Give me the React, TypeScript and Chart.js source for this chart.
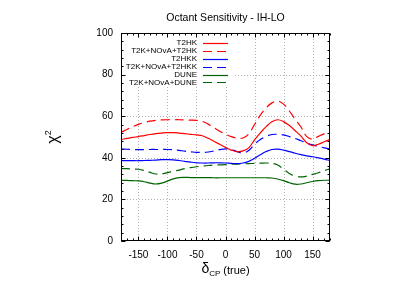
import React, { useEffect, useRef } from "react";
import { Chart, registerables } from "chart.js";

Chart.register(...registerables);

const deltaCP = [
  -180, -170, -160, -150, -140, -130, -120, -110, -100, -90, -80, -70, -60, -50, -40, -30, -20, -10, 0,
  10, 20, 30, 40, 50, 60, 70, 80, 90, 100, 110, 120, 130, 140, 150, 160, 170, 180,
];
const t2hk = [
  48.8, 49.3, 49.8, 50.2, 50.7, 51.2, 51.6, 51.9, 52.1, 52.1, 51.9, 51.6, 51.3, 51.0, 50.6, 49.4, 48.0, 46.5, 45.0,
  43.7, 42.9, 43.3, 44.8, 48.6, 52.0, 55.0, 57.3, 58.3, 57.4, 55.5, 53.0, 50.4, 47.2, 45.8, 46.5, 47.7, 48.8,
];
const t2kNovaT2hk = [
  52.2, 53.6, 54.9, 56.1, 56.9, 57.6, 58.0, 58.2, 58.3, 58.3, 58.3, 58.2, 58.1, 58.0, 57.5, 56.2, 54.5, 52.8, 51.4,
  50.2, 49.5, 49.5, 51.5, 56.0, 60.5, 64.0, 66.4, 67.3, 65.8, 62.5, 58.5, 54.8, 50.2, 49.0, 50.3, 51.5, 52.2,
];
const t2hkk = [
  38.6, 38.6, 38.6, 38.6, 38.7, 38.8, 38.9, 39.1, 39.1, 39.0, 38.7, 38.3, 37.9, 37.6, 37.5, 37.5, 37.6, 37.6, 37.5,
  37.3, 37.2, 37.5, 38.3, 39.8, 41.5, 43.0, 44.0, 44.2, 43.7, 43.0, 42.2, 41.5, 40.9, 40.5, 40.0, 39.4, 38.7,
];
const t2kNovaT2hkk = [
  44.2, 44.1, 44.0, 43.9, 43.9, 44.0, 44.0, 44.0, 44.0, 43.9, 43.6, 43.2, 42.9, 42.6, 42.6, 42.8, 43.3, 43.9, 44.3,
  44.0, 43.0, 42.3, 43.5, 46.5, 48.8, 50.3, 51.2, 51.3, 51.0, 50.2, 49.3, 48.2, 47.1, 46.2, 45.5, 44.8, 44.2,
];
const dune = [
  29.2, 29.1, 29.0, 28.9, 28.5, 27.8, 27.4, 27.8, 28.8, 29.9, 30.5, 30.6, 30.5, 30.5, 30.5, 30.5, 30.4, 30.4, 30.4,
  30.4, 30.4, 30.4, 30.4, 30.4, 30.4, 30.4, 30.3, 29.8, 29.0, 28.0, 27.3, 27.4, 28.0, 28.6, 29.0, 29.2, 29.2,
];
const t2kNovaDune = [
  34.8, 34.8, 34.6, 34.5, 33.9, 33.0, 32.2, 32.3, 32.9, 33.5, 34.1, 34.8, 35.3, 35.7, 36.0, 36.3, 36.5, 36.6, 36.7,
  36.9, 37.0, 37.1, 37.2, 37.3, 37.4, 37.5, 37.3, 36.5, 34.5, 32.5, 31.2, 30.8, 31.2, 32.0, 32.8, 33.8, 34.7,
];

const seriesLabels = ["T2HK", "T2K+NOvA+T2HK", "T2HKK", "T2K+NOvA+T2HKK", "DUNE", "T2K+NOvA+DUNE"];
const seriesValues = [t2hk, t2kNovaT2hk, t2hkk, t2kNovaT2hkk, dune, t2kNovaDune];
const seriesColors = ["#ff0000", "#ff0000", "#0000ff", "#0000ff", "#006400", "#006400"];
const seriesDashed = [false, true, false, true, false, true];

const xTicks = [-150, -100, -50, 0, 50, 100, 150];
const yTicks = [0, 20, 40, 60, 80, 100];
const xMinorStep = 10;
const yMinorStep = 4;

const titleText = "Octant Sensitivity - IH-LO";
const FONT = "'Liberation Sans', Arial, Helvetica, sans-serif";

const gnuplotPlugin = {
  id: "gnuplotStyle",
  beforeDatasetsDraw(chart: any) {
    const { ctx, chartArea: a, scales } = chart;
    const x = scales.x;
    const y = scales.y;
    ctx.save();
    ctx.strokeStyle = "#b0b0b0";
    ctx.lineWidth = 1;
    ctx.setLineDash([1, 2]);
    for (const v of xTicks) {
      const px = Math.round(x.getPixelForValue(v)) + 0.5;
      ctx.beginPath();
      ctx.moveTo(px, a.top);
      ctx.lineTo(px, a.bottom);
      ctx.stroke();
    }
    for (const v of yTicks) {
      if (v <= y.min || v >= y.max) continue;
      const py = Math.round(y.getPixelForValue(v)) + 0.5;
      ctx.beginPath();
      ctx.moveTo(a.left, py);
      ctx.lineTo(a.right, py);
      ctx.stroke();
    }
    ctx.setLineDash([]);
    // legend background
    ctx.fillStyle = "#ffffff";
    ctx.fillRect(a.left + 1, a.top + 1, 111, 53);
    ctx.restore();
  },
  afterDatasetsDraw(chart: any) {
    const { ctx, chartArea: a, scales } = chart;
    const x = scales.x;
    const y = scales.y;
    ctx.save();
    ctx.strokeStyle = "#000000";
    ctx.lineWidth = 1;
    const L = Math.round(a.left) + 0.5;
    const R = Math.round(a.right) - 0.5;
    const T = Math.round(a.top) + 0.5;
    const B = Math.round(a.bottom) - 0.5;
    ctx.beginPath();
    for (let v = x.min; v <= x.max + 1e-6; v += xMinorStep) {
      const major = xTicks.includes(v);
      const len = major ? 4 : 2;
      const px = Math.round(x.getPixelForValue(v)) + 0.5;
      ctx.moveTo(px, B);
      ctx.lineTo(px, B - len);
      ctx.moveTo(px, T);
      ctx.lineTo(px, T + len);
    }
    for (let v = y.min; v <= y.max + 1e-6; v += yMinorStep) {
      const py = Math.round(y.getPixelForValue(v)) + 0.5;
      ctx.moveTo(L, py);
      ctx.lineTo(L + 2, py);
      ctx.moveTo(R, py);
      ctx.lineTo(R - 2, py);
    }
    for (const v of yTicks) {
      const py = Math.round(y.getPixelForValue(v)) + 0.5;
      ctx.moveTo(L, py);
      ctx.lineTo(L + 4, py);
      ctx.moveTo(R, py);
      ctx.lineTo(R - 4, py);
    }
    ctx.stroke();
    ctx.strokeRect(L, T, R - L, B - T);

    // legend
    ctx.font = `8px ${FONT}`;
    ctx.textAlign = "right";
    ctx.textBaseline = "middle";
    chart.data.datasets.forEach((ds: any, i: number) => {
      const ry = a.top + 9.7 + i * 7.95;
      ctx.fillStyle = "#000000";
      ctx.fillText(ds.label, a.left + 76, ry);
      ctx.strokeStyle = ds.borderColor;
      ctx.lineWidth = 1.2;
      ctx.setLineDash(ds.borderDash || []);
      ctx.beginPath();
      ctx.moveTo(a.left + 82, Math.round(ry) + 0.5);
      ctx.lineTo(a.left + 107, Math.round(ry) + 0.5);
      ctx.stroke();
    });
    ctx.setLineDash([]);
    ctx.restore();
  },
  afterDraw(chart: any) {
    const { ctx, chartArea: a } = chart;
    const cx = (a.left + a.right) / 2;
    const cy = (a.top + a.bottom) / 2;
    ctx.save();
    ctx.fillStyle = "#000000";
    // title
    ctx.font = `10.5px ${FONT}`;
    ctx.textAlign = "center";
    ctx.textBaseline = "alphabetic";
    ctx.fillText(titleText, cx, 21);

    // x axis title: delta_CP (true)
    ctx.textAlign = "left";
    const f1 = `14px ${FONT}`;
    const f2 = `8px ${FONT}`;
    const f3 = `11px ${FONT}`;
    ctx.font = f1;
    const w1 = ctx.measureText("\u03b4").width;
    ctx.font = f2;
    const w2 = ctx.measureText("CP").width;
    ctx.font = f3;
    const w3 = ctx.measureText(" (true)").width;
    let sx = cx - (w1 + w2 + w3) / 2;
    ctx.font = f1;
    ctx.fillText("\u03b4", sx, 272.5);
    sx += w1;
    ctx.font = f2;
    ctx.fillText("CP", sx, 275.5);
    sx += w2;
    ctx.font = f3;
    ctx.fillText(" (true)", sx, 273.5);

    // y axis title: chi^2
    const fc = `16px ${FONT}`;
    const fs = `9px ${FONT}`;
    ctx.translate(58, cy);
    ctx.rotate(-Math.PI / 2);
    ctx.font = fc;
    const wc = ctx.measureText("\u03c7").width;
    ctx.font = fs;
    const ws = ctx.measureText("2").width;
    let ty = -(wc + ws) / 2;
    ctx.font = fc;
    ctx.fillText("\u03c7", ty, 0);
    ty += wc;
    ctx.font = fs;
    ctx.fillText("2", ty, -7);
    ctx.restore();
  },
};

export default function App() {
  const canvasRef = useRef<HTMLCanvasElement | null>(null);

  useEffect(() => {
    const canvas = canvasRef.current;
    if (!canvas) return;
    const datasets = seriesLabels.map((label, i) => ({
      label,
      data: deltaCP.map((d, j) => ({ x: d, y: seriesValues[i][j] })),
      borderColor: seriesColors[i],
      backgroundColor: seriesColors[i],
      borderWidth: 1.2,
      borderDash: seriesDashed[i] ? [9, 5] : [],
      pointRadius: 0,
      tension: 0.4,
      fill: false,
    }));
    const chart = new Chart(canvas, {
      type: "line",
      data: { datasets },
      options: {
        animation: false,
        responsive: true,
        maintainAspectRatio: false,
        layout: { padding: { left: 0, right: 85, top: 33, bottom: 0 } },
        plugins: {
          legend: { display: false },
          title: { display: false },
          tooltip: { enabled: false },
        },
        scales: {
          x: {
            type: "linear",
            min: -180,
            max: 180,
            afterBuildTicks: (scale: any) => {
              scale.ticks = xTicks.map((v) => ({ value: v }));
            },
            afterFit: (scale: any) => {
              scale.height = 49;
            },
            grid: { display: false, drawTicks: false },
            border: { display: false },
            ticks: {
              padding: 8,
              maxRotation: 0,
              autoSkip: false,
              color: "#000000",
              font: { family: FONT, size: 10 },
            },
          },
          y: {
            type: "linear",
            min: 0,
            max: 100,
            afterBuildTicks: (scale: any) => {
              scale.ticks = yTicks.map((v) => ({ value: v }));
            },
            afterFit: (scale: any) => {
              scale.width = 121;
            },
            grid: { display: false, drawTicks: false },
            border: { display: false },
            ticks: {
              padding: 8,
              color: "#000000",
              font: { family: FONT, size: 10 },
            },
          },
        },
      },
      plugins: [gnuplotPlugin],
    });
    return () => chart.destroy();
  }, []);

  return (
    <div style={{ position: "absolute", left: 0, top: 0, width: 415, height: 290, background: "#ffffff" }}>
      <canvas ref={canvasRef} />
    </div>
  );
}
